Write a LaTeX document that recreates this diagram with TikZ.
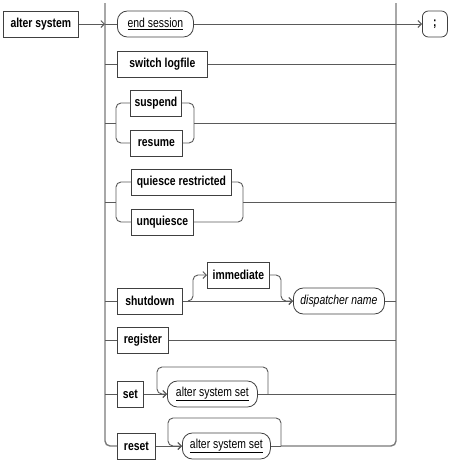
\documentclass[tikz,border=0pt]{standalone}
\usepackage{fontspec}
\setmainfont{Liberation Sans}[FakeStretch=0.8]
\usetikzlibrary{arrows.meta}
\definecolor{railc}{HTML}{7A7A7A}
\definecolor{linec}{HTML}{5A5A5A}
\definecolor{boxc}{HTML}{404040}
\tikzset{
 kw/.style={draw=boxc,line width=.8pt,font=\fontsize{13}{15}\selectfont\bfseries,minimum height=26pt,inner sep=0pt,anchor=west},
 term/.style={kw,font=\fontsize{13}{15}\selectfont,rounded corners=10pt},
 conn/.style={linec,line width=.9pt},
 rail/.style={railc,line width=1.4pt},
 tip/.style={-{Straight Barb[length=3.5pt,width=7pt]}}
}

\begin{document}
\begin{tikzpicture}[x=1pt,y=-1pt]
\useasboundingbox (0,0) rectangle (450,461);
% keyword boxes and terms
\foreach \n/\x/\y/\w/\txt in {alter/3/24/75/alter system,switch/117/64/90/switch logfile,suspend/130/103/51/suspend,resume/130/143/52/resume,quiesce/131/182/100/quiesce restricted,unquiesce/131/222/62/unquiesce,shutdown/117/301/65/shutdown,immediate/207/275/62/immediate,register/117/340/51/register,set/117/394/26/set,reset/117/446/38/reset}
 \node[kw,minimum width=\w pt] (\n) at (\x,\y) {\txt};
\foreach \n/\x/\y/\w/\txt in {endsess/117/24/76/\underline{end session},dispatcher/293/301/91/\textit{dispatcher name},sysseta/167/394/90/\underline{alter system set},syssetb/182/446/88/\underline{alter system set}}
 \node[term,minimum width=\w pt] (\n) at (\x,\y) {\txt};
\node[kw,rounded corners=6pt,minimum width=25pt] (semi) at (422,24) {;};
\coordinate (ltop) at (105,3);\coordinate (rtop) at (396,3);
\coordinate (srl) at (116,123);\coordinate (srr) at (194,123);
\coordinate (ql) at (116,202);\coordinate (qr) at (243,202);
\coordinate (shfork) at (188,301);
\coordinate (loopa) at (268,394);\coordinate (loopb) at (281,446);
% rails
\draw[rail,rounded corners=5pt] (ltop) |- (reset.west);
\draw[rail,rounded corners=5pt] (rtop) |- (loopb);
% branches
\draw[conn,tip] (alter) -- (alter -| ltop);
\draw[conn,tip] (endsess) -- (semi);
\foreach \n in {endsess,switch,shutdown,register,set} \draw[conn] (\n.west -| ltop) -- (\n.west);
\foreach \n in {switch,register,dispatcher,sysseta} \draw[conn] (\n.east) -- (\n.east -| rtop);
\draw[conn] (srl -| ltop) -- (srl);\draw[conn,rounded corners=5pt] (suspend.west) -| (srl) |- (resume.west);
\draw[conn,rounded corners=5pt] (suspend.east) -| (srr) |- (resume.east);\draw[conn] (srr) -- (srr -| rtop);
\draw[conn] (ql -| ltop) -- (ql);\draw[conn,rounded corners=5pt] (quiesce.west) -| (ql) |- (unquiesce.west);
\draw[conn,rounded corners=5pt] (quiesce.east) -| (qr) |- (unquiesce.east);\draw[conn] (qr) -- (qr -| rtop);
\draw[conn,tip] (shutdown) -- (dispatcher);
\draw[conn,tip,rounded corners=5pt] (shfork) -| ([xshift=-14pt]immediate.west) -- (immediate.west);
\draw[conn,tip,rounded corners=5pt] (immediate.east) -| ([xshift=-12pt]dispatcher.west) -- (dispatcher.west);
\draw[conn,tip] (set) -- (sysseta);
\draw[conn,tip,rounded corners=5pt] (loopa) |- ([shift={(-10pt,27pt)}]sysseta.west) |- (sysseta.west);
\draw[conn,tip] (reset) -- (syssetb);
\draw[conn] (syssetb.east) -- (loopb);
\draw[conn,tip,rounded corners=5pt] (loopb) |- ([shift={(-14pt,28pt)}]syssetb.west) |- (syssetb.west);
\end{tikzpicture}
\end{document}
